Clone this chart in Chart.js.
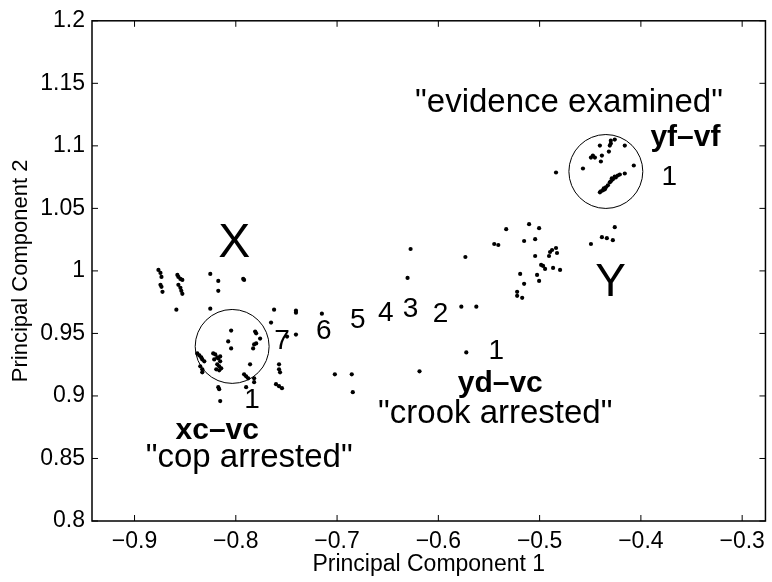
<!DOCTYPE html>
<html>
<head>
<meta charset="utf-8">
<script src="https://cdn.jsdelivr.net/npm/chart.js@4.4.0/dist/chart.umd.min.js"></script>
<style>
  html, body { margin: 0; padding: 0; background: #fff; }
  #wrap { width: 772px; height: 582px; }
</style>
</head>
<body>
<div id="wrap"><canvas id="pcaChart" width="772" height="582"></canvas></div>
<script>
// points around X ("cop arrested")
const xSidePc1 = [-0.8764, -0.8744, -0.8734, -0.8744, -0.8734, -0.8724, -0.8577, -0.8567, -0.8547, -0.8528,
  -0.8567, -0.8547, -0.8538, -0.8528, -0.8252, -0.8173, -0.8173, -0.7927, -0.7918, -0.8587, -0.8252,
  -0.8046, -0.7809, -0.7799, -0.776, -0.8075, -0.8046, -0.7819, -0.7799, -0.7829,
  -0.838, -0.836, -0.8341, -0.8331, -0.8311, -0.8351, -0.8331, -0.8331,
  -0.8223, -0.8203, -0.8183, -0.8173, -0.8154, -0.8183, -0.8164, -0.8144, -0.8193, -0.8164, -0.8213, -0.8154,
  -0.7859, -0.7918, -0.7898, -0.7878, -0.7819, -0.7819, -0.7898, -0.8173, -0.8164, -0.8154,
  -0.7622, -0.7406, -0.7406, -0.7652, -0.7494, -0.7406, -0.7573, -0.7573, -0.7563, -0.7603, -0.7573, -0.7544];
const xSidePc2 = [1.0008, 0.9984, 0.9952, 0.9889, 0.9873, 0.9833, 0.9968, 0.9952, 0.9936, 0.9928,
  0.9889, 0.9865, 0.9841, 0.9817, 0.9976, 0.992, 0.9841, 0.9936, 0.9928, 0.969, 0.9698,
  0.9523, 0.9515, 0.9501, 0.9459, 0.9436, 0.938, 0.9412, 0.942, 0.938,
  0.934, 0.9324, 0.9308, 0.9292, 0.9277, 0.9237, 0.9213, 0.9189,
  0.934, 0.9332, 0.9308, 0.93, 0.9277, 0.9253, 0.9237, 0.9221, 0.9213, 0.9205, 0.9292, 0.9316,
  0.9253, 0.9173, 0.9157, 0.9141, 0.9141, 0.911, 0.907, 0.907, 0.9054, 0.8959,
  0.969, 0.9682, 0.9666, 0.9587, 0.9475, 0.9491, 0.9253, 0.9213, 0.9189, 0.9094, 0.9078, 0.9062];

// points along the path from X to Y
const midPc1 = [-0.715, -0.7022, -0.6855, -0.6845, -0.6186, -0.6274, -0.6304, -0.5773, -0.5625, -0.5724, -0.5733];
const midPc2 = [0.9658, 0.9173, 0.9173, 0.903, 0.9197, 1.0175, 0.9944, 0.9714, 0.9714, 0.9348, 1.0111];

// points around Y
const ySidePc1 = [-0.5448, -0.5408, -0.533, -0.5104, -0.5005, -0.5153, -0.5044, -0.5044, -0.4897, -0.4877,
  -0.4838, -0.4828, -0.4907, -0.4985, -0.4966, -0.4946, -0.4867, -0.4798, -0.5192, -0.5025,
  -0.5153, -0.5005, -0.5222, -0.5222, -0.5172, -0.4493, -0.4385, -0.4336, -0.4277, -0.4258, -0.4838];
const ySidePc2 = [1.0215, 1.0207, 1.0334, 1.0374, 1.0342, 1.0239, 1.0254, 1.0119, 1.0151, 1.0167,
  1.0183, 1.0143, 1.0119, 1.0048, 1.004, 1.0016, 1.0024, 1.0008, 0.9976, 0.9968,
  0.9897, 0.992, 0.9833, 0.9801, 0.9785, 1.0215, 1.027, 1.0262, 1.0246, 1.035, 1.0787];

// points inside the "evidence examined" circle
const yfPc1 = [-0.4572, -0.4405, -0.4307, -0.4297, -0.4258, -0.4297, -0.4159, -0.4493, -0.4474, -0.4454,
  -0.4385, -0.4316, -0.4395, -0.407, -0.4159, -0.4228, -0.4248, -0.4258, -0.4277, -0.4297, -0.4307,
  -0.4326, -0.4346, -0.4356, -0.4375, -0.4395, -0.4405, -0.4208, -0.4287, -0.4366];
const yfPc2 = [1.0819, 1.1002, 1.1002, 1.1018, 1.105, 1.1041, 1.1002, 1.0906, 1.0922, 1.0906,
  1.0922, 1.0954, 1.0875, 1.0843, 1.0779, 1.0763, 1.0747, 1.0755, 1.0732, 1.0716, 1.0708,
  1.0684, 1.0668, 1.0652, 1.0644, 1.0636, 1.0628, 1.0771, 1.074, 1.066];

const xTicks = [-0.9, -0.8, -0.7, -0.6, -0.5, -0.4, -0.3];
const yTicks = [0.8, 0.85, 0.9, 0.95, 1, 1.05, 1.1, 1.15, 1.2];

// circles: centre in data units, radius in PC1 units
const circles = [
  { cx: -0.8036, cy: 0.9396, r: 0.0365 },
  { cx: -0.4346, cy: 1.0795, r: 0.0365 }
];

const notes = [
  { text: 'X', x: -0.8016, y: 1.022, size: 48 },
  { text: 'Y', x: -0.430, y: 0.9897, size: 46 },
  { text: '"evidence examined"', x: -0.471, y: 1.1344, size: 33 },
  { text: 'yf\u2013vf', x: -0.356, y: 1.1062, size: 30, bold: true },
  { text: '1', x: -0.372, y: 1.0745, size: 28 },
  { text: '7', x: -0.7543, y: 0.9436, size: 28 },
  { text: '6', x: -0.713, y: 0.9515, size: 28 },
  { text: '5', x: -0.6796, y: 0.9603, size: 28 },
  { text: '4', x: -0.652, y: 0.9658, size: 28 },
  { text: '3', x: -0.6274, y: 0.969, size: 28 },
  { text: '2', x: -0.5979, y: 0.965, size: 28 },
  { text: '1', x: -0.5428, y: 0.9356, size: 28 },
  { text: 'yd\u2013vc', x: -0.5389, y: 0.9094, size: 30, bold: true },
  { text: '"crook arrested"', x: -0.5438, y: 0.886, size: 33 },
  { text: '1', x: -0.7839, y: 0.8966, size: 28 },
  { text: 'xc\u2013vc', x: -0.8183, y: 0.872, size: 30, bold: true },
  { text: '"cop arrested"', x: -0.7868, y: 0.8505, size: 33 }
];

const FONT = '"Liberation Sans", Arial, Helvetica, sans-serif';

function toPoints(xs, ys) {
  return xs.map((x, i) => ({ x: x, y: ys[i] }));
}

function dotSet(xs, ys) {
  return {
    data: toPoints(xs, ys),
    backgroundColor: '#000',
    borderWidth: 0,
    pointRadius: 2.1,
    pointHoverRadius: 2.1
  };
}

const minus = (s) => s.replace('-', '\u2212');

const matlabBox = {
  id: 'matlabBox',
  afterDatasetsDraw(chart) {
    const { ctx, chartArea: a, scales } = chart;
    const xs = scales.x, ys = scales.y;
    ctx.save();
    ctx.strokeStyle = '#000';
    ctx.lineWidth = 1.5;
    ctx.strokeRect(a.left, a.top, a.right - a.left, a.bottom - a.top);

    // inward tick marks on all four sides
    ctx.lineWidth = 1;
    ctx.beginPath();
    xTicks.forEach(v => {
      const px = xs.getPixelForValue(v);
      ctx.moveTo(px, a.bottom); ctx.lineTo(px, a.bottom - 6);
      ctx.moveTo(px, a.top); ctx.lineTo(px, a.top + 6);
    });
    yTicks.forEach(v => {
      const py = ys.getPixelForValue(v);
      ctx.moveTo(a.left, py); ctx.lineTo(a.left + 6, py);
      ctx.moveTo(a.right, py); ctx.lineTo(a.right - 6, py);
    });
    ctx.stroke();

    // circles
    circles.forEach(c => {
      const px = xs.getPixelForValue(c.cx);
      const py = ys.getPixelForValue(c.cy);
      const rad = xs.getPixelForValue(c.cx + c.r) - px;
      ctx.beginPath();
      ctx.arc(px, py, rad, 0, Math.PI * 2);
      ctx.stroke();
    });

    // text notes
    ctx.fillStyle = '#000';
    ctx.textAlign = 'center';
    ctx.textBaseline = 'middle';
    notes.forEach(n => {
      ctx.font = (n.bold ? 'bold ' : '') + n.size + 'px ' + FONT;
      ctx.fillText(n.text, xs.getPixelForValue(n.x), ys.getPixelForValue(n.y));
    });
    ctx.restore();
  }
};

new Chart(document.getElementById('pcaChart'), {
  type: 'scatter',
  data: {
    datasets: [
      dotSet(xSidePc1, xSidePc2),
      dotSet(midPc1, midPc2),
      dotSet(ySidePc1, ySidePc2),
      dotSet(yfPc1, yfPc2)
    ]
  },
  plugins: [matlabBox],
  options: {
    responsive: false,
    animation: false,
    events: [],
    layout: { padding: { top: 18, right: 4, left: 0, bottom: 0 } },
    plugins: {
      legend: { display: false },
      tooltip: { enabled: false }
    },
    scales: {
      x: {
        type: 'linear',
        min: -0.942,
        max: -0.277,
        afterBuildTicks: (s) => { s.ticks = xTicks.map(v => ({ value: v })); },
        afterFit: (s) => { s.height = 61; },
        grid: { display: false, drawTicks: false },
        border: { display: false },
        ticks: {
          color: '#000',
          padding: 7,
          maxRotation: 0,
          font: { family: FONT, size: 23 },
          callback: (v) => minus(v.toFixed(1))
        },
        title: {
          display: true,
          text: 'Principal Component 1',
          color: '#000',
          font: { family: FONT, size: 23 },
          padding: { top: 0, bottom: 4 }
        }
      },
      y: {
        type: 'linear',
        min: 0.8,
        max: 1.2,
        afterBuildTicks: (s) => { s.ticks = yTicks.map(v => ({ value: v })); },
        afterFit: (s) => { s.width = 92; },
        grid: { display: false, drawTicks: false },
        border: { display: false },
        ticks: {
          color: '#000',
          padding: 7,
          font: { family: FONT, size: 23 },
          callback: (v) => String(+v.toFixed(2))
        },
        title: {
          display: true,
          text: 'Principal Component 2',
          color: '#000',
          font: { family: FONT, size: 22 },
          padding: { top: 8, bottom: 0 }
        }
      }
    }
  }
});
</script>
</body>
</html>
